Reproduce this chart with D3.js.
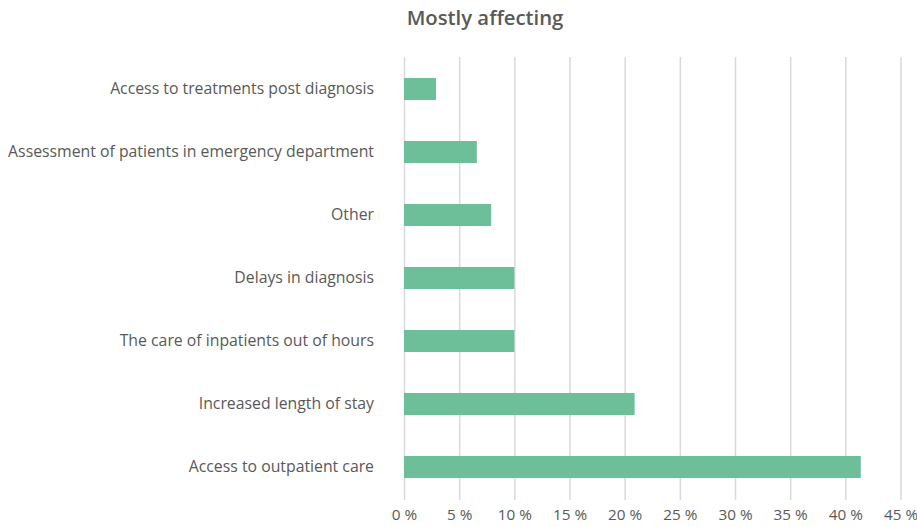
<!DOCTYPE html>
<html><head><meta charset="utf-8">
<script src="https://cdn.jsdelivr.net/npm/d3@7"></script>
<style>body{margin:0;background:#fff} svg text{font-family:'Open Sans',sans-serif}</style>
</head><body>
<script>
const categories = ["Access to treatments post diagnosis","Assessment of patients in emergency department","Other","Delays in diagnosis","The care of inpatients out of hours","Increased length of stay","Access to outpatient care"];
const values = [2.9, 6.6, 7.9, 10.0, 10.0, 20.9, 41.4];
const ticks = [0,5,10,15,20,25,30,35,40,45];
const title = "Mostly affecting";

const W = 917, H = 527;
const svg = d3.select("body").append("svg").attr("width", W).attr("height", H);

const x = d3.scaleLinear().domain([0,45]).range([404, 900.5]);
const y = d3.scaleBand().domain(categories).range([57.5, 498.5]).paddingInner(0.65).paddingOuter(0.325);

svg.append("text").attr("x", 485).attr("y", 25).attr("text-anchor","middle")
  .attr("font-size", 20.3).attr("font-weight", 600).attr("fill", "#595959").text(title);

const xa = svg.append("g").attr("transform", `translate(0,${500})`)
  .call(d3.axisBottom(x).tickValues(ticks).tickSize(-443).tickFormat(d => d + " %"));
xa.select(".domain").remove();
xa.selectAll(".tick line").attr("stroke", "#d9d9d9").attr("stroke-width", 1.5);
xa.selectAll(".tick text").attr("fill", "#595959").attr("font-size", 15.3).attr("dy", "1.1em");

svg.append("g").selectAll("rect").data(categories).join("rect")
  .attr("x", x(0)).attr("y", d => y(d))
  .attr("width", (d,i) => x(values[i]) - x(0)).attr("height", y.bandwidth())
  .attr("fill", "#6dbf99");

const ya = svg.append("g").attr("transform", `translate(${x(0)},0)`)
  .call(d3.axisLeft(y).tickSize(0).tickPadding(30));
ya.select(".domain").remove();
ya.selectAll(".tick text").attr("fill", "#595959").attr("font-size", 15.8);
</script>
</body></html>
